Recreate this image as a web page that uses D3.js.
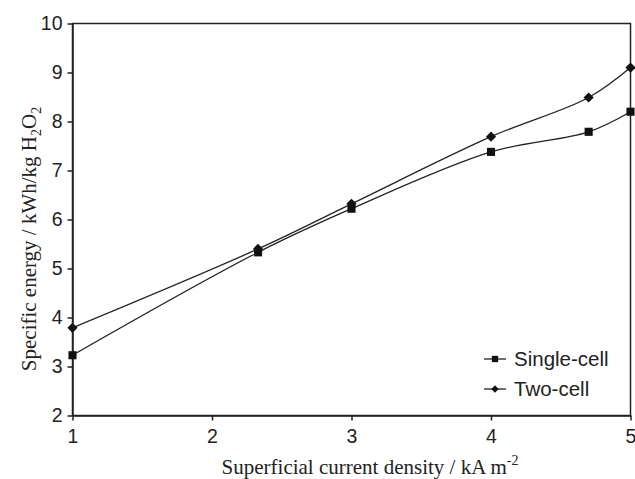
<!DOCTYPE html>
<head>
<meta charset="utf-8">
<title>Specific energy vs current density</title>
<style>
body { margin: 0; background: #fff; }
.axis text { font: 19.5px "Liberation Sans", Arial, sans-serif; fill: #222; }
.axis path, .axis line { stroke: #222; stroke-width: 1.5px; }
.line { fill: none; stroke: #222; stroke-width: 1.3px; }
.title { font-family: "Liberation Serif", "Times New Roman", serif; font-size: 21px; fill: #222; }
.legend text { font: 20.5px "Liberation Sans", Arial, sans-serif; fill: #222; }
</style>
</head>
<body>
<svg width="635" height="479"></svg>
<script src="https://d3js.org/d3.v7.min.js"></script>
<script>
// values
let density = [1, 2.33, 3, 4, 4.7, 5];
let singleCell = [3.23, 5.33, 6.22, 7.38, 7.79, 8.2];
let twoCell = [3.79, 5.4, 6.32, 7.69, 8.49, 9.1];
let xTicks = [1, 2, 3, 4, 5];
let yTicks = [2, 3, 4, 5, 6, 7, 8, 9, 10];

let svg = d3.select("svg"),
    margin = {top: 23.5, right: 4.5, bottom: 63.5, left: 72.5},
    width = +svg.attr("width") - margin.left - margin.right,
    height = +svg.attr("height") - margin.top - margin.bottom,
    g = svg.append("g").attr("transform", "translate(" + margin.left + "," + margin.top + ")");

let x = d3.scaleLinear().domain([1, 5]).range([0, width]);
let y = d3.scaleLinear().domain([2, 10]).range([height, 0]);

// box
g.append("rect")
    .attr("width", width)
    .attr("height", height)
    .attr("fill", "none")
    .attr("stroke", "#222")
    .attr("stroke-width", 1.5);

g.append("g")
    .attr("class", "axis")
    .attr("transform", "translate(0," + height + ")")
    .call(d3.axisBottom(x).tickValues(xTicks).tickSize(5).tickSizeOuter(0).tickPadding(9).tickFormat(d3.format("d")));

g.append("g")
    .attr("class", "axis")
    .call(d3.axisLeft(y).tickValues(yTicks).tickSize(5).tickSizeOuter(0).tickPadding(5).tickFormat(d3.format("d")));

let line = d3.line()
    .curve(d3.curveCatmullRom.alpha(0.5))
    .x((d, i) => x(density[i]))
    .y(d => y(d));

let series = [
  {name: "Single-cell", values: singleCell, symbol: d3.symbolSquare, size: 66, legendSize: 40},
  {name: "Two-cell", values: twoCell, symbol: d3.symbolDiamond2, size: 66, legendSize: 34}
];

series.forEach(s => {
  g.append("path").datum(s.values).attr("class", "line").attr("d", line);
  g.selectAll(null)
      .data(s.values)
      .enter().append("path")
      .attr("transform", (d, i) => "translate(" + x(density[i]) + "," + y(d) + ")")
      .attr("d", d3.symbol().type(s.symbol).size(s.size))
      .attr("fill", "#111");
});

// legend
let legend = svg.append("g").attr("class", "legend")
    .attr("transform", "translate(484,359)");
series.forEach((s, i) => {
  let row = legend.append("g").attr("transform", "translate(0," + i * 30 + ")");
  row.append("line").attr("x1", 0).attr("x2", 22).attr("stroke", "#222").attr("stroke-width", 1.3);
  row.append("path").attr("transform", "translate(11,0)")
      .attr("d", d3.symbol().type(s.symbol).size(s.legendSize)).attr("fill", "#111");
  row.append("text").attr("x", 30).attr("dy", "0.36em").text(s.name);
});

// axis titles
let xt = svg.append("text").attr("class", "title")
    .attr("x", 370).attr("y", 474).attr("text-anchor", "middle");
xt.append("tspan").text("Superficial current density / kA m");
xt.append("tspan").attr("dy", -9).attr("font-size", 14).text("-2");

let yt = svg.append("text").attr("class", "title")
    .attr("transform", "translate(36,239) rotate(-90)")
    .attr("text-anchor", "middle");
yt.append("tspan").text("Specific energy / kWh/kg H");
yt.append("tspan").attr("dy", 5).attr("font-size", 14).text("2");
yt.append("tspan").attr("dy", -5).text("O");
yt.append("tspan").attr("dy", 5).attr("font-size", 14).text("2");
</script>
</body>
